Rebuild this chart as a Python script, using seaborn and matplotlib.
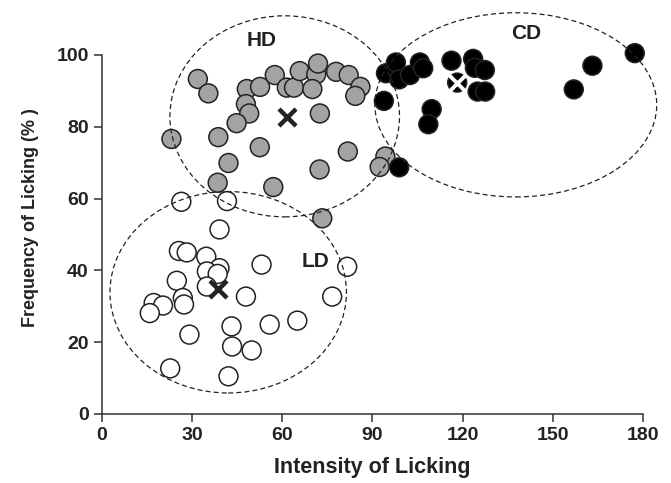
import numpy as np
import pandas as pd
import seaborn as sns
import matplotlib
matplotlib.use("Agg")
import matplotlib.pyplot as plt
from matplotlib.patches import Ellipse

# high dose (grey)
hd_x = [31.9, 35.4, 48.2, 52.6, 57.5, 61.5, 63.9, 65.8, 71.3, 71.9, 70.0, 77.9, 82.1, 86.0, 84.3,
        47.9, 49.0, 44.8, 72.5, 23.1, 38.7, 52.5, 81.8, 42.1, 72.4, 38.5, 57.0, 94.3, 92.4, 73.3]
hd_y = [93.3, 89.3, 90.5, 91.1, 94.4, 90.9, 90.9, 95.5, 94.6, 97.6, 90.5, 95.3, 94.4, 91.1, 88.6,
        86.3, 83.7, 81.0, 83.7, 76.6, 77.1, 74.3, 73.1, 69.9, 68.1, 64.4, 63.2, 71.7, 68.8, 54.5]

# CD (black)
cd_x = [94.5, 97.8, 98.9, 102.5, 105.8, 106.9, 116.3, 123.5, 124.1, 127.4, 118.2, 125.0, 127.5,
        93.8, 109.7, 108.6, 98.9, 157.0, 163.2, 177.3]
cd_y = [94.9, 97.9, 93.2, 94.4, 97.9, 96.3, 98.4, 98.9, 96.4, 95.8, 92.3, 89.8, 89.8,
        87.2, 84.9, 80.7, 68.7, 90.4, 97.0, 100.5]

# low dose (white)
ld_x = [26.4, 41.6, 39.1, 25.6, 28.2, 34.7, 39.1, 34.9, 38.5, 53.1, 81.6, 24.9, 34.9, 47.9,
        76.6, 26.9, 27.3, 17.2, 20.3, 15.9, 43.1, 55.8, 65.0, 29.1, 43.3, 49.8, 22.7, 42.1]
ld_y = [59.1, 59.3, 51.4, 45.4, 45.0, 43.8, 40.6, 39.7, 39.0, 41.6, 41.0, 37.1, 35.5, 32.7,
        32.7, 32.3, 30.5, 30.9, 30.2, 28.1, 24.4, 24.9, 26.0, 22.1, 18.8, 17.7, 12.7, 10.5]

# group means (x markers)
mean_x = {"HD": 61.5, "LD": 38.5, "CD": 118.2}
mean_y = {"HD": 82.8, "LD": 34.8, "CD": 92.3}

# dashed ellipses: centre x, centre y, width, height
ellipses = {"HD": (60.8, 82.9, 76.4, 56.0),
            "CD": (137.7, 86.1, 93.8, 51.3),
            "LD": (42.0, 33.9, 78.7, 56.1)}

group_labels = {"HD": (53, 104), "CD": (141.2, 106), "LD": (71.1, 42.4)}

df = pd.concat([
    pd.DataFrame({"x": ld_x, "y": ld_y, "group": "LD"}),
    pd.DataFrame({"x": hd_x, "y": hd_y, "group": "HD"}),
    pd.DataFrame({"x": cd_x, "y": cd_y, "group": "CD"}),
], ignore_index=True)

sns.set_style("ticks")
plt.rcParams['font.family'] = ['Liberation Sans', 'DejaVu Sans']

fig = plt.figure(figsize=(6.71, 4.83), dpi=100)
ax = fig.add_axes([0.152, 0.1429, 0.833, 0.840])

colors = {"LD": "white", "HD": "#a3a3a3", "CD": "black"}
sns.scatterplot(data=df, x="x", y="y", hue="group", palette=colors,
                hue_order=["LD", "HD", "CD"], s=185, edgecolor="#222222",
                linewidth=1.1, legend=False, ax=ax, zorder=3)

for g in ["HD", "LD"]:
    ax.scatter(mean_x[g], mean_y[g], marker="x", s=150, c="#222222", linewidths=3.2, zorder=5)
ax.scatter(mean_x["CD"], mean_y["CD"], marker="x", s=150, c="white", linewidths=2.8, zorder=5)

for g, (cx, cy, w, h) in ellipses.items():
    ax.add_patch(Ellipse((cx, cy), w, h, fill=False, ls=(0, (4, 2.5)), lw=0.9,
                         ec="#222222", zorder=4))

for g, (tx, ty) in group_labels.items():
    ax.text(tx, ty, g, ha="center", va="center", fontsize=15, fontweight="bold", color="#222222")

ax.set_xlim(0, 186)
ax.set_ylim(0, 113)
ax.set_xticks([0, 30, 60, 90, 120, 150, 180])
ax.set_yticks([0, 20, 40, 60, 80, 100])
sns.despine(ax=ax)
ax.spines["bottom"].set_bounds(0, 180)
ax.spines["left"].set_bounds(0, 100)
for sp in ["bottom", "left"]:
    ax.spines[sp].set_linewidth(1.1)
    ax.spines[sp].set_color("#333333")
ax.tick_params(length=6, width=1.1, color="#333333", labelsize=14, labelcolor="#222222")
for lab in ax.get_xticklabels() + ax.get_yticklabels():
    lab.set_fontweight("bold")

ax.set_xlabel("Intensity of Licking", fontsize=15.5, fontweight="bold", color="#222222")
ax.set_ylabel("Frequency of Licking (% )", fontsize=13, fontweight="bold", color="#222222")
ax.xaxis.set_label_coords(90 / 186, -0.105)
ax.yaxis.set_label_coords(-0.113, 54.6 / 113)

fig.savefig("out.png", dpi=100)
